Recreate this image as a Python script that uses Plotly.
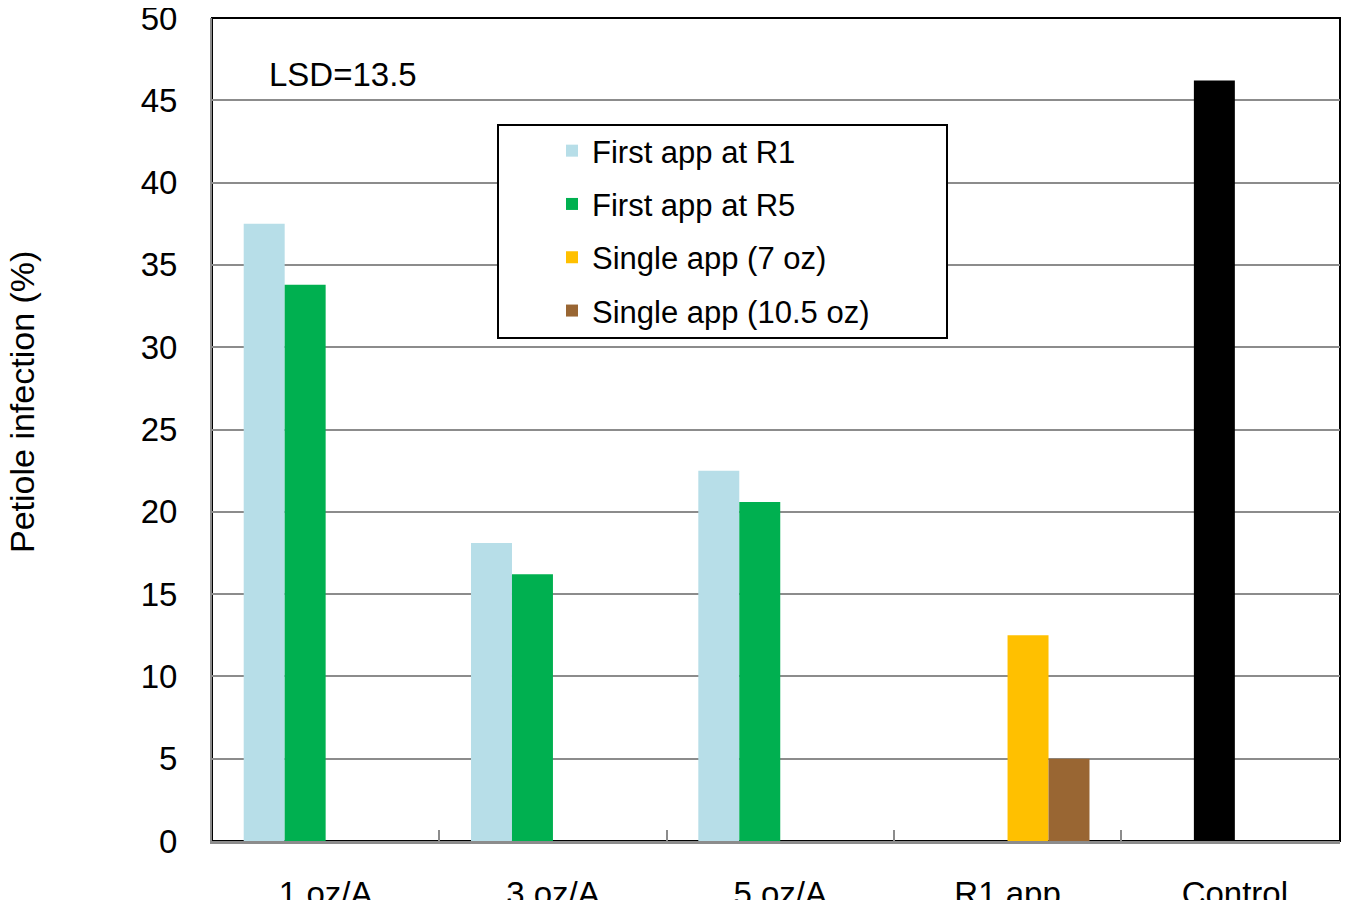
import plotly.graph_objects as go

categories = ["1 oz/A", "3 oz/A", "5 oz/A", "R1 app", "Control"]
first_r1 = [37.5, 18.1, 22.5, None, None]
first_r5 = [33.8, 16.2, 20.6, None, None]
single_7 = [None, None, None, 12.5, None]
single_105 = [None, None, None, 5.0, None]
control = [None, None, None, None, 46.2]

names = ["First app at R1", "First app at R5", "Single app (7 oz)", "Single app (10.5 oz)"]
colors = ["#B7DEE8", "#00B050", "#FFC000", "#996633"]
y_ticks = list(range(0, 55, 5))

FONT = "Arial, Liberation Sans, sans-serif"

# plot area in page pixels (page = figure + 8px body margin)
PX0, PX1, PY0, PY1 = 212, 1340, 18, 841
PW, PH = PX1 - PX0, PY1 - PY0
CAT_W = 227.3  # category width in the reference (px)


def px(x):
    return (x - PX0) / PW


def py(y):
    return (PY1 - y) / PH


fig = go.Figure()
for i, (nm, vals, col) in enumerate(zip(names, [first_r1, first_r5, single_7, single_105], colors)):
    fig.add_trace(go.Bar(x=categories, y=vals, name=nm, marker=dict(color=col, line=dict(width=0)),
                         offsetgroup=str(i), legendgroup=str(i)))
fig.add_trace(go.Bar(x=categories, y=control, name="Control", marker=dict(color="#000000", line=dict(width=0)),
                     offsetgroup="1", showlegend=False))

fig.update_layout(
    width=1333, height=892, autosize=False,
    margin=dict(l=204, r=1, t=10, b=59, autoexpand=False),
    plot_bgcolor="white", paper_bgcolor="white",
    barmode="group", bargap=0.279, bargroupgap=0,
    font=dict(family=FONT, size=31, color="black"),
    showlegend=True,
    legend=dict(x=px(552), y=py(124), xanchor="left", yanchor="top", bgcolor="rgba(0,0,0,0)",
                borderwidth=0, traceorder="grouped", tracegroupgap=10,
                font=dict(family=FONT, size=31, color="black")),
    xaxis=dict(range=[-0.5, -0.5 + PW / CAT_W],
               showline=True, linecolor="#8C8C8C", linewidth=3, ticks="inside", ticklen=11,
               tickwidth=2, tickcolor="#8C8C8C", tickson="boundaries", showgrid=False,
               tickfont=dict(family=FONT, size=33), ticklabelstandoff=21, automargin=False,
               ticklabeloverflow="allow"),
    yaxis=dict(range=[0, 50], tickvals=y_ticks, showline=True, linecolor="#8C8C8C", linewidth=2,
               showgrid=True, gridcolor="#8C8C8C", gridwidth=2, zeroline=False, ticks="",
               tickfont=dict(family=FONT, size=33), ticklabelstandoff=26, automargin=False,
               ticklabeloverflow="allow"),
)

# plot area border (top / right)
fig.add_shape(type="rect", xref="paper", yref="paper", x0=0, x1=1, y0=0, y1=1,
              line=dict(color="black", width=2), layer="below")
# legend box
fig.add_shape(type="rect", xref="paper", yref="paper",
              x0=px(498), x1=px(947), y0=py(338), y1=py(125),
              line=dict(color="black", width=2), fillcolor="white", layer="above")

fig.add_annotation(text="LSD=13.5", xref="paper", yref="paper", x=px(267), y=py(74),
                   xanchor="left", yanchor="middle", showarrow=False, font=dict(family=FONT, size=33))
fig.add_annotation(text="Petiole infection (%)", xref="paper", yref="paper", x=px(22),
                   y=py(402), xanchor="center", yanchor="middle", textangle=-90,
                   showarrow=False, font=dict(family=FONT, size=34))

fig.write_html("out.html")
